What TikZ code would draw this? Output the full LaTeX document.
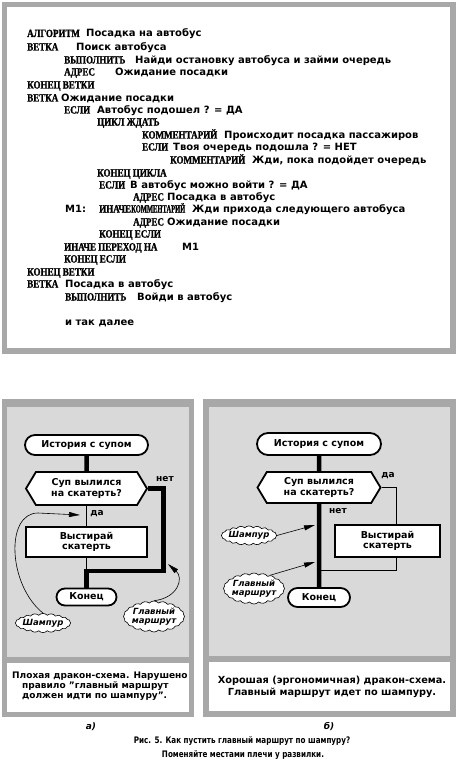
\documentclass[tikz,border=0pt]{standalone}
\usepackage{fontspec}
\setmainfont{DejaVu Sans}
\newfontfamily\kwfont{Liberation Serif Bold}[FakeStretch=0.82, FakeBold=1.2]
\newfontfamily\narrowfont{DejaVu Sans Bold}[FakeStretch=0.8]
\usetikzlibrary{shapes.misc,shapes.symbols,arrows.meta}
\definecolor{frame}{HTML}{A8A8A8}
\definecolor{panel}{HTML}{D9D9D9}
\tikzset{
  kw/.style={anchor=base west, inner sep=0pt, font=\kwfont\fontsize{11}{12}\selectfont},
  tx/.style={anchor=base west, inner sep=0pt, font=\bfseries\fontsize{10}{11}\selectfont},
  term/.style={rounded rectangle, draw, line width=1.8pt, fill=white, inner sep=0pt, align=center, font=\bfseries\fontsize{9.5}{10.5}\selectfont},
  hexa/.style={signal, signal to=west and east, signal pointer angle=118, draw, line width=1.8pt, fill=white, inner sep=0pt, align=center, font=\bfseries\fontsize{9.5}{10.5}\selectfont},
  boxs/.style={rectangle, draw, line width=1.8pt, fill=white, inner sep=0pt, align=center, font=\bfseries\fontsize{9.5}{10.5}\selectfont},
  mainline/.style={line width=4.5pt},
  thinl/.style={line width=0.8pt},
  lab/.style={inner sep=0pt, font=\bfseries\fontsize{9}{10}\selectfont},
  cloudn/.style={cloud, cloud puffs=20, cloud puff arc=95, aspect=3.5, draw, line width=0.6pt, fill=white, inner sep=-1pt, align=center, font=\bfseries\itshape\fontsize{8.5}{9.5}\selectfont},
  cloudt/.style={cloudn, aspect=2.2},
  callout/.style={line width=0.6pt, -{Triangle[length=11pt,width=5pt]}},
  captxt/.style={anchor=base west, inner sep=0pt, font=\bfseries\fontsize{9}{10}\selectfont},
  capc/.style={inner sep=0pt, font=\bfseries\fontsize{9.75}{10.5}\selectfont},
  capn/.style={inner sep=0pt, font=\narrowfont\fontsize{9}{10}\selectfont},
}
\begin{document}
\begin{tikzpicture}[x=1pt,y=-1pt]
\useasboundingbox (0,0) rectangle (456,765);
% panels
\fill[frame] (2,2) rectangle (456,354);
\fill[white] (7,7) rectangle (450,348);
\fill[frame] (2,399) rectangle (194,717);
\fill[panel] (7,407) rectangle (189,657);
\fill[white] (7,663) rectangle (189,712);
\fill[frame] (203,399) rectangle (456,717);
\fill[panel] (209,407) rectangle (450,656);
\fill[white] (209,662) rectangle (450,711);

% listing
\node[kw] (k1) at (27,37) {АЛГОРИТМ};
\node[tx] (t1) at (86,37) {Посадка на автобус};
\node[kw] (k2) at (27,50.5) {ВЕТКА};
\node[tx] (t2) at (76,50.5) {Поиск автобуса};
\node[kw] (k3) at (64,63.5) {ВЫПОЛНИТЬ};
\node[tx] (t3) at (135,63.5) {Найди остановку автобуса и займи очередь};
\node[kw] (k4) at (64,75.5) {АДРЕС};
\node[tx] (t4) at (115,75.5) {Ожидание посадки};
\node[kw] (k5) at (27,88.5) {КОНЕЦ ВЕТКИ};
\node[kw] (k6) at (27,101.5) {ВЕТКА};
\node[tx] (t6) at (61,101.5) {Ожидание посадки};
\node[kw] (k7) at (64,113.5) {ЕСЛИ};
\node[tx] (t7) at (97,113.5) {Автобус подошел ? = ДА};
\node[kw] (k8) at (97,125.5) {ЦИКЛ ЖДАТЬ};
\node[kw] (k9) at (142,138.5) {КОММЕНТАРИЙ};
\node[tx] (t9) at (224,138.5) {Происходит посадка пассажиров};
\node[kw] (k10) at (142,150.5) {ЕСЛИ};
\node[tx] (t10) at (173,150.5) {Твоя очередь подошла ? = НЕТ};
\node[kw] (k11) at (170,163.5) {КОММЕНТАРИЙ};
\node[tx] (t11) at (252,163.5) {Жди, пока подойдет очередь};
\node[kw] (k12) at (97,176.5) {КОНЕЦ ЦИКЛА};
\node[kw] (k13) at (99,188.5) {ЕСЛИ};
\node[tx] (t13) at (130,188.5) {В автобус можно войти ? = ДА};
\node[kw] (k14) at (133,200.5) {АДРЕС};
\node[tx] (t14) at (167,200.5) {Посадка в автобус};
\node[tx] (m15) at (65,212.5) {М1:};
\node[kw] (k15) at (99,212.5) {ИНАЧЕ};
\node[kw] (k15b) at (131,212.5) {\scalebox{0.72}[1]{КОММЕНТАРИЙ}};
\node[tx] (t15) at (192,212.5) {Жди прихода следующего автобуса};
\node[kw] (k16) at (133,225.5) {АДРЕС};
\node[tx] (t16) at (167,225.5) {Ожидание посадки};
\node[kw] (k17) at (99,237.5) {КОНЕЦ ЕСЛИ};
\node[kw] (k18) at (64,250.5) {ИНАЧЕ ПЕРЕХОД НА};
\node[tx] (t18) at (182,250.5) {М1};
\node[kw] (k19) at (64,262.5) {КОНЕЦ ЕСЛИ};
\node[kw] (k20) at (27,275.5) {КОНЕЦ ВЕТКИ};
\node[kw] (k21) at (27,287.5) {ВЕТКА};
\node[tx] (t21) at (65,287.5) {Посадка в автобус};
\node[kw] (k22) at (65,300.5) {ВЫПОЛНИТЬ};
\node[tx] (t22) at (137,300.5) {Войди в автобус};
\node[tx] (t23) at (65,325.5) {и так далее};

% left flowchart
\node[term, minimum width=123pt, minimum height=20pt] (a1) at (86.5,445) {История с супом};
\node[hexa, minimum width=121pt, minimum height=33pt] (a2) at (86.5,488.5) {Суп вылился\\на скатерть?};
\node[boxs, minimum width=121pt, minimum height=30pt] (a3) at (86.5,542) {Выстирай\\скатерть};
\node[term, minimum width=60pt, minimum height=17pt] (a4) at (86.5,597) {Конец};
\coordinate (aj) at (163.5,571);
\draw[mainline] (a1) -- (a2);
\draw[mainline] (a2.east) -- (a2.east -| aj) -- (aj) -- (aj -| a4) -- (a4);
\draw[thinl] (a2) -- (a3);
\draw[thinl] (a3) -- (a3 |- aj);
\node[lab] (a5) at (165,479) {нет};
\node[lab] (a6) at (97,514) {да};
\node[cloudn] (a7) at (43,623) {Шампур};
\node[cloudt] (a8) at (154,616.5) {Главный\\маршрут};
\coordinate (a9) at (80,515);
\coordinate (a10) at (168,564);
\draw[callout] (a7.north) .. controls (8,585) and (5,513) .. (38,513) -- (a9);
\draw[callout] (a8.north) .. controls (178,598) and (184,578) .. (a10);

% right flowchart
\node[term, minimum width=124pt, minimum height=22pt] (b1) at (319,444) {История с супом};
\node[hexa, minimum width=123pt, minimum height=31pt] (b2) at (319,487.5) {Суп вылился\\на скатерть?};
\node[boxs, minimum width=105pt, minimum height=32pt] (b3) at (387.5,541) {Выстирай\\скатерть};
\node[term, minimum width=62pt, minimum height=19pt] (b4) at (319,597.5) {Конец};
\coordinate (bj) at (396,570);
\draw[mainline] (b1) -- (b2);
\draw[mainline] (b2) -- (b4);
\draw[thinl] (b2.east) -- (b2.east -| bj) -- (b3.north -| bj);
\draw[thinl] (b3.south -| bj) -- (bj) -- (bj -| b2);
\node[lab] (b9) at (388,476) {да};
\node[lab] (b10) at (338,511) {нет};
\node[cloudn] (b5) at (249,535.5) {Шампур};
\node[cloudt] (b6) at (254,588.5) {Главный\\маршрут};
\coordinate (b7) at (315,525);
\coordinate (b8) at (315,562);
\draw[callout] (b5.east) -- (b7);
\draw[callout] (b6.40) -- (b8);

% captions
\node[captxt] (c1) at (12,678) {Плохая дракон-схема. Нарушено};
\node[captxt] (c2) at (22,688) {правило "главный маршрут};
\node[captxt] (c3) at (22,698) {должен идти по шампуру".};
\node[capc] (c4) at (332,681) {Хорошая (эргономичная) дракон-схема.};
\node[capc] (c5) at (332,692.5) {Главный маршрут идет по шампуру.};
\node[capn, font=\bfseries\itshape\fontsize{9}{10}\selectfont] (c6) at (91,727) {а)};
\node[capn, font=\bfseries\itshape\fontsize{9}{10}\selectfont] (c7) at (329,727) {б)};
\node[capn] (c8) at (242,741) {Рис. 5. Как пустить главный маршрут по шампуру?};
\node[capn] (c9) at (243,755) {Поменяйте местами плечи у развилки.};
\end{tikzpicture}
\end{document}
